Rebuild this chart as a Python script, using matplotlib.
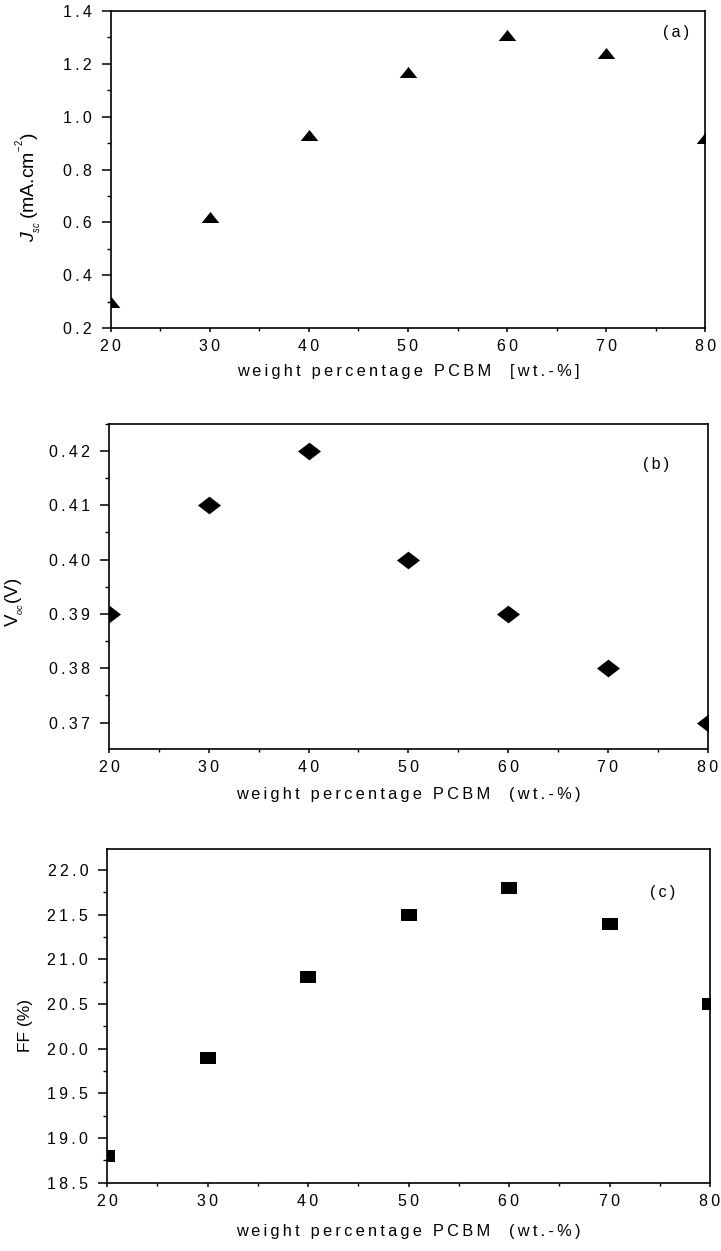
import matplotlib
matplotlib.use("Agg")
import matplotlib.pyplot as plt
from matplotlib.ticker import MultipleLocator, FuncFormatter
from matplotlib.path import Path

plt.rcParams['font.family'] = ['Liberation Sans', 'DejaVu Sans']
plt.rcParams['mathtext.fontset'] = 'custom'
plt.rcParams['mathtext.rm'] = 'Liberation Sans'
plt.rcParams['mathtext.it'] = 'Liberation Sans:italic'
plt.rcParams['mathtext.bf'] = 'Liberation Sans:bold'

# ---- data ----
pcbm = [20, 30, 40, 50, 60, 70, 80]
jsc = [0.30, 0.62, 0.93, 1.17, 1.31, 1.24, 0.92]
voc = [0.39, 0.41, 0.42, 0.40, 0.39, 0.38, 0.37]
ff = [18.8, 19.9, 20.8, 21.5, 21.8, 21.4, 20.5]

xlabel_a = "weight percentage PCBM  [wt.-%]"
xlabel_bc = "weight percentage PCBM  (wt.-%)"

W, H = 721, 1251
fig = plt.figure(figsize=(W / 100, H / 100), dpi=100)

TS = "\u2009"
FS = 11.5


def spaced(s):
    return TS.join(list(s))


def add_ax(l, r, t, b):
    return fig.add_axes([l / W, (H - b) / H, (r - l) / W, (b - t) / H])


tri = Path([(-1.6, -1), (1.6, -1), (0, 1), (-1.6, -1)],
           [Path.MOVETO, Path.LINETO, Path.LINETO, Path.CLOSEPOLY])
dia = Path([(-1.3, 0), (0, -1), (1.3, 0), (0, 1), (-1.3, 0)],
           [Path.MOVETO, Path.LINETO, Path.LINETO, Path.LINETO, Path.CLOSEPOLY])
rect = Path([(-1.5, -1), (1.5, -1), (1.5, 1), (-1.5, 1), (-1.5, -1)],
            [Path.MOVETO, Path.LINETO, Path.LINETO, Path.LINETO, Path.CLOSEPOLY])


def style(ax, ylim, ymaj, ymin, yfmt, xlab, xlab_y, ylab, ylab_xy, ylab_fs,
          panel, panel_xy):
    ax.set_xlim(20, 80)
    ax.set_ylim(*ylim)
    ax.xaxis.set_major_locator(MultipleLocator(10))
    ax.xaxis.set_minor_locator(MultipleLocator(5))
    ax.yaxis.set_major_locator(MultipleLocator(ymaj))
    ax.yaxis.set_minor_locator(MultipleLocator(ymin))
    ax.xaxis.set_major_formatter(FuncFormatter(lambda v, p: spaced("%d" % round(v))))
    ax.yaxis.set_major_formatter(FuncFormatter(lambda v, p: spaced(yfmt % v)))
    for s in ax.spines.values():
        s.set_linewidth(1.2)
    ax.tick_params(axis='y', which='major', direction='out', length=6.5, width=1.1,
                   pad=7, labelsize=FS)
    ax.tick_params(axis='y', which='minor', direction='out', length=3, width=1.0)
    ax.tick_params(axis='x', which='major', direction='out', length=3, width=1.1,
                   pad=5, labelsize=FS)
    ax.tick_params(axis='x', which='minor', direction='out', length=2, width=1.0)
    ax.set_xlabel(spaced(xlab), fontsize=FS + 0.3)
    ax.xaxis.set_label_coords(0.5, xlab_y)
    ax.set_ylabel(ylab, fontsize=ylab_fs)
    ax.yaxis.set_label_coords(*ylab_xy)
    ax.text(panel_xy[0], panel_xy[1], spaced(panel), transform=ax.transAxes,
            fontsize=FS, ha='center', va='center')


# (a)
ax1 = add_ax(110.7, 705.3, 11, 328)
ax1.plot(pcbm, jsc, linestyle='none', marker=tri, markersize=12.7,
         color='black', markeredgewidth=0)
style(ax1, (0.2, 1.4), 0.2, 0.1, "%.1f", xlabel_a, -0.115,
      r"$J_{_{sc}}\,$(mA.cm$^{^{-2}}$)", ((44 - 110.7) / 594.6, 0.445), 14,
      "(a)", ((676 - 110.7) / 594.6, (328 - 32) / 317))

# (b)
ax2 = add_ax(109, 707.7, 423.7, 749.3)
ax2.plot(pcbm, voc, linestyle='none', marker=dia, markersize=16.6,
         color='black', markeredgewidth=0)
style(ax2, (0.3651, 0.425), 0.01, 0.005, "%.2f", xlabel_bc, -0.115,
      r"V$_{_{oc}}$(V)", ((26 - 109) / 598.7, 0.452), 13.5,
      "(b)", ((656 - 109) / 598.7, (749.3 - 465) / 325.6))

# (c)
ax3 = add_ax(107, 710, 848.7, 1182.7)
ax3.plot(pcbm, ff, linestyle='none', marker=rect, markersize=12.2,
         color='black', markeredgewidth=0)
style(ax3, (18.5, 22.24), 0.5, 0.25, "%.1f", xlabel_bc, -0.125,
      "FF (%)", ((33 - 107) / 603, 0.472), 12.5,
      "(c)", ((663 - 107) / 603, (1182.7 - 892) / 334))

fig.savefig("out.png", dpi=100)
